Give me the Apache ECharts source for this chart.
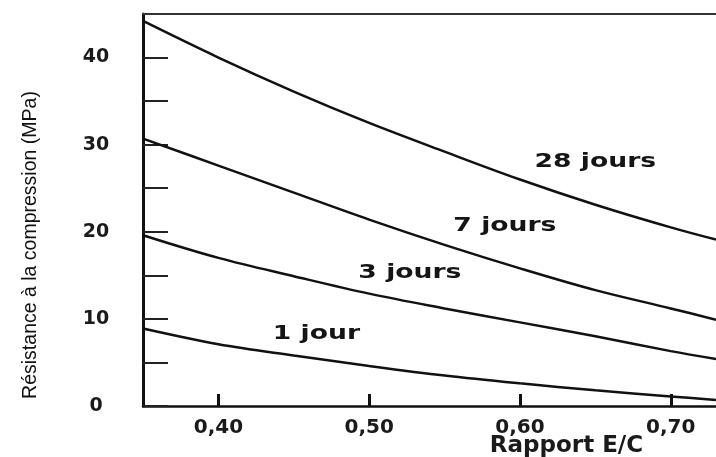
<!DOCTYPE html>
<html>
<head>
<meta charset="utf-8">
<script src="https://cdn.jsdelivr.net/npm/echarts@6/dist/echarts.min.js"></script>
<style>
  html, body { margin: 0; padding: 0; background: #fff; }
  #chart { width: 716px; height: 457px; }
</style>
</head>
<body>
<div id="chart"></div>
<script>
// E/C ratio sample points
const ratios = [0.35, 0.40, 0.45, 0.50, 0.55, 0.60, 0.65, 0.70, 0.73];
// Compressive strength (MPa) per age
const strength28 = [44.2, 40.0, 36.1, 32.5, 29.2, 26.0, 23.1, 20.5, 19.1];
const strength7  = [30.7, 27.6, 24.5, 21.4, 18.5, 15.8, 13.3, 11.2, 9.9];
const strength3  = [19.6, 17.0, 14.9, 12.9, 11.2, 9.6, 8.0, 6.3, 5.4];
const strength1  = [8.9, 7.1, 5.8, 4.6, 3.5, 2.6, 1.8, 1.1, 0.7];
const seriesNames = ['28 jours', '7 jours', '3 jours', '1 jour'];
// label anchor (ratio, strength) per curve
const labelRatios = [0.650, 0.590, 0.527, 0.465];
const labelStrengths = [28.0, 20.6, 15.3, 8.3];
// axis ticks
const xTickValues = [0.40, 0.50, 0.60, 0.70];
const xTickLabels = ['0,40', '0,50', '0,60', '0,70'];
const yTickValues = [0, 5, 10, 15, 20, 25, 30, 35, 40];
const yLabelValues = [0, 10, 20, 30, 40];

const allStrengths = [strength28, strength7, strength3, strength1];

const chart = echarts.init(document.getElementById('chart'));
const labelFont = 'DejaVu Sans, Verdana, sans-serif';

const lineSeries = allStrengths.map((vals, i) => ({
  name: seriesNames[i],
  type: 'line',
  smooth: 0.35,
  symbol: 'none',
  lineStyle: { color: '#111', width: 2.5 },
  data: ratios.map((r, j) => [r, vals[j]]),
  z: 3
}));

const labelSeries = {
  type: 'custom',
  silent: true,
  z: 4,
  data: seriesNames.map((n, i) => [labelRatios[i], labelStrengths[i], i]),
  renderItem: (params, api) => {
    const pt = api.coord([api.value(0), api.value(1)]);
    return {
      type: 'text',
      x: pt[0],
      y: pt[1],
      scaleX: 1.4,
      style: {
        text: seriesNames[api.value(2)],
        fill: '#151515',
        font: 'bold 19px ' + labelFont,
        align: 'center',
        verticalAlign: 'middle'
      }
    };
  }
};

chart.setOption({
  animation: false,
  backgroundColor: '#fff',
  grid: { left: 143, right: 0, top: 14, bottom: 51, containLabel: false, outerBoundsMode: 'none' },
  xAxis: [{
    type: 'value',
    min: 0.35,
    max: 0.73,
    interval: 0.05,
    position: 'bottom',
    axisLine: { show: true, onZero: false, lineStyle: { color: '#111', width: 2.5 } },
    axisTick: { show: true, inside: true, length: 12, customValues: xTickValues, lineStyle: { color: '#111', width: 3 } },
    axisLabel: {
      show: true, customValues: xTickValues,
      formatter: v => xTickLabels[xTickValues.findIndex(t => Math.abs(t - v) < 1e-6)] || '',
      color: '#1a1a1a', fontFamily: labelFont, fontWeight: 'bold', fontSize: 20, margin: 12
    },
    splitLine: { show: false },
    name: 'Rapport E/C',
    nameLocation: 'middle',
    nameGap: 29,
    nameMoveOverlap: false,
    nameTextStyle: { color: '#1a1a1a', fontFamily: labelFont, fontWeight: 'bold', fontSize: 23, padding: [0, 0, 0, 274] }
  }, {
    type: 'value',
    min: 0.35,
    max: 0.73,
    position: 'top',
    axisLine: { show: true, onZero: false, lineStyle: { color: '#333', width: 2 } },
    axisTick: { show: false },
    axisLabel: { show: false },
    splitLine: { show: false }
  }],
  yAxis: {
    type: 'value',
    min: 0,
    max: 45,
    interval: 5,
    axisLine: { show: true, onZero: false, lineStyle: { color: '#111', width: 3 } },
    axisTick: { show: true, inside: true, length: 25, customValues: yTickValues, lineStyle: { color: '#222', width: 2 } },
    axisLabel: {
      show: true, customValues: yLabelValues,
      align: 'center', margin: 47,
      color: '#1a1a1a', fontFamily: labelFont, fontWeight: 'bold', fontSize: 19
    },
    splitLine: { show: false },
    name: 'Résistance à la compression (MPa)',
    nameLocation: 'middle',
    nameGap: 102,
    nameMoveOverlap: false,
    nameTextStyle: {
      color: '#111', fontSize: 19.5,
      fontFamily: '"Liberation Sans", Arial, sans-serif',
      padding: [0, 70, 0, 0]
    }
  },
  series: [...lineSeries, labelSeries]
});
</script>
</body>
</html>
